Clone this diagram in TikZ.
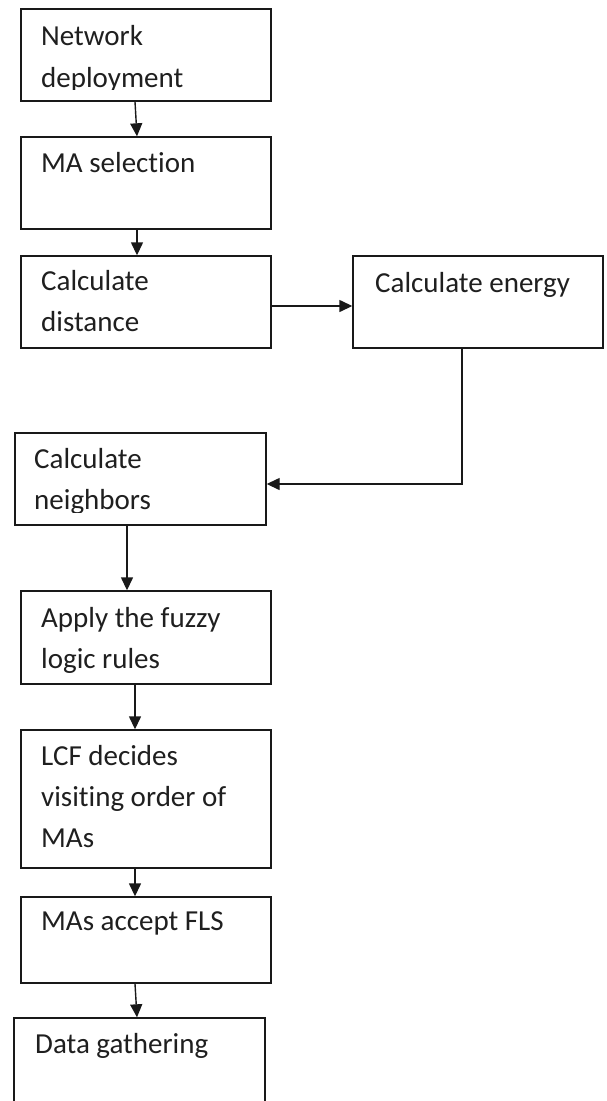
\documentclass[tikz,border=0pt]{standalone}
\usepackage{fontspec}
\setmainfont{Carlito}[Ligatures={NoCommon}]
\usetikzlibrary{arrows.meta}
\begin{document}
\begin{tikzpicture}[x=1pt,y=-1pt,
  box/.style={draw=black!90,line width=1.4pt,rectangle,inner sep=0pt,minimum width=250pt},
  txt/.style={anchor=base west,inner sep=0pt,text=black!88,font=\fontsize{29}{42}\selectfont},
  arr/.style={draw=black!90,line width=1.4pt,-{Triangle[length=13pt,width=12pt]}}]
\useasboundingbox (0,0) rectangle (606,1101);
\clip (0,0) rectangle (606,1101);
\fill[white] (0,0) rectangle (606,1101);
% boxes
\node[box,minimum height=92pt] (B1) at (146,55) {};
\node[box,minimum height=92pt] (B2) at (146,183) {};
\node[box,minimum height=92pt] (B3) at (146,302) {};
\node[box,minimum height=92pt] (B4) at (478,302) {};
\node[box,minimum width=251pt,minimum height=92pt] (B5) at (140.5,479) {};
\node[box,minimum height=93pt] (B6) at (146,637.5) {};
\node[box,minimum height=138pt] (B7) at (146,799) {};
\node[box,minimum height=86pt] (B8) at (146,940) {};
\node[box,minimum width=251pt,minimum height=110pt] (B9) at (139.5,1073) {};
% texts
\begin{scope}
\clip (B1.north west) rectangle ([yshift=12pt]B1.south east);
\node[txt] (t1a) at (41,45) {Network};
\node[txt] (t1b) at (41,87) {deployment};
\end{scope}
\node[txt] (t2) at (41,172) {MA selection};
\node[txt] (t3a) at (41,290) {Calculate};
\node[txt] (t3b) at (41,331) {distance};
\node[txt] (t4) at (375,292) {Calculate energy};
\begin{scope}
\clip (B5.north west) rectangle ([yshift=13pt]B5.south east);
\node[txt] (t5a) at (34,468) {Calculate};
\node[txt] (t5b) at (34,509) {neighbors};
\end{scope}
\begin{scope}
\clip (B6.north west) rectangle ([yshift=12pt]B6.south east);
\node[txt] (t6a) at (41,627) {Apply the fuzzy};
\node[txt] (t6b) at (41,668) {logic rules};
\end{scope}
\node[txt] (t7a) at (41,765) {LCF decides};
\node[txt] (t7b) at (41,806) {visiting order of};
\node[txt] (t7c) at (41,847) {MAs};
\node[txt] (t8) at (41,930) {MAs accept FLS};
\node[txt] (t9) at (35,1053) {Data gathering};
% connectors
\draw[arr] ([xshift=-11pt]B1.south) -- ([xshift=-9pt]B2.north);
\draw[arr] ([xshift=-9pt]B2.south) -- ([xshift=-9pt]B3.north);
\draw[arr] ([yshift=-4pt]B3.east) -- ([yshift=-4pt]B4.west);
\draw[arr] ([xshift=-16pt]B4.south) |- ([yshift=-5pt]B5.east);
\draw[arr] ([xshift=-13.5pt]B5.south) -- ([xshift=-19pt]B6.north);
\draw[arr] ([xshift=-11pt]B6.south) -- ([xshift=-11pt]B7.north);
\draw[arr] ([xshift=-11pt]B7.south) -- ([xshift=-11pt]B8.north);
\draw[arr] ([xshift=-11pt]B8.south) -- ([xshift=-2.5pt]B9.north);
\end{tikzpicture}
\end{document}
